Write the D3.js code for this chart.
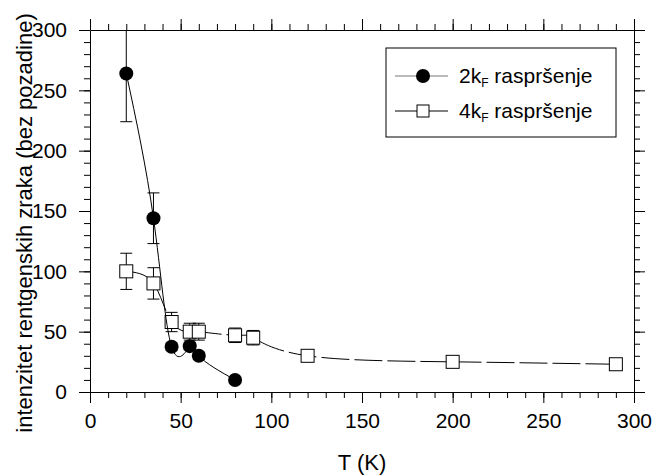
<!DOCTYPE html>
<html>
<head>
<meta charset="utf-8">
<script src="https://cdn.jsdelivr.net/npm/d3@7"></script>
<style>
  body { margin: 0; background: #fff; }
  svg { display: block; font-family: "Liberation Sans", Arial, sans-serif; }
  .axis path, .axis line { stroke: #000; stroke-width: 1; }
</style>
</head>
<body>
<div id="chart"></div>
<script>
// chart size
const width = 653,
  height = 475,
  margin = { top: 30, bottom: 83, left: 90, right: 19 };

// 2kF scattering (filled circles)
const t2k = [20, 35, 45, 55, 60, 80];
const i2k = [264, 144, 37.5, 38, 30, 10];
const e2k = [40, 21, 3, 3, 3, 2];

// 4kF scattering (open squares)
const t4k = [20, 35, 45, 55, 60, 80, 90, 120, 200, 290];
const i4k = [100, 90, 58, 50, 50, 47, 45, 30, 25, 23];
const e4k = [15, 13, 8, 7, 7, 6, 6, 2, 2, 2];

const xTicks = [0, 50, 100, 150, 200, 250, 300];
const yTicks = [0, 50, 100, 150, 200, 250, 300];
const legendNames = ["2k", "4k"];

const data2k = t2k.map((t, i) => ({ t: t, v: i2k[i], e: e2k[i] }));
const data4k = t4k.map((t, i) => ({ t: t, v: i4k[i], e: e4k[i] }));

const xScale = d3.scaleLinear()
  .domain([0, 300])
  .range([margin.left, width - margin.right]);

const yScale = d3.scaleLinear()
  .domain([0, 300])
  .range([height - margin.bottom, margin.top]);

const minor = d3.range(0, 301, 10);

const svg = d3.select("#chart")
  .append("svg")
  .attr("width", width)
  .attr("height", height);

// clip for marks
svg.append("clipPath")
  .attr("id", "plot-clip")
  .append("rect")
  .attr("x", margin.left)
  .attr("y", margin.top)
  .attr("width", width - margin.left - margin.right)
  .attr("height", height - margin.top - margin.bottom);

// axes: minor ticks first, then majors with labels
function addAxis(axisFn, scale, ticks, transform, labels) {
  svg.append("g")
    .attr("class", "axis")
    .attr("transform", transform)
    .call(axisFn(scale).tickValues(minor).tickSize(6).tickFormat(""))
    .call(g => g.select(".domain").remove());
  const g = svg.append("g")
    .attr("class", "axis")
    .attr("transform", transform)
    .call(axisFn(scale).tickValues(ticks).tickSizeInner(11).tickSizeOuter(0)
      .tickPadding(axisFn === d3.axisLeft ? 12 : 10)
      .tickFormat(labels ? d3.format("d") : ""));
  g.selectAll("text")
    .attr("font-size", 21)
    .attr("fill", "#000");
  return g;
}

addAxis(d3.axisBottom, xScale, xTicks, `translate(0,${yScale(0)})`, true);
addAxis(d3.axisTop, xScale, xTicks, `translate(0,${yScale(300)})`, false);
addAxis(d3.axisLeft, yScale, yTicks, `translate(${xScale(0)},0)`, true);
addAxis(d3.axisRight, yScale, yTicks, `translate(${xScale(300)},0)`, false);

// axis titles
svg.append("text")
  .attr("x", (xScale(0) + xScale(300)) / 2)
  .attr("y", 470)
  .attr("text-anchor", "middle")
  .attr("font-size", 22)
  .text("T (K)");

svg.append("text")
  .attr("transform", `translate(32, ${223})rotate(-90)`)
  .attr("text-anchor", "middle")
  .attr("font-size", 22)
  .text("intenzitet rentgenskih zraka (bez pozadine)");

const plot = svg.append("g").attr("clip-path", "url(#plot-clip)");

const line = d3.line()
  .x(d => xScale(d.t))
  .y(d => yScale(d.v))
  .curve(d3.curveNatural);

// 4kF line + error bars + squares
plot.append("path")
  .datum(data4k)
  .attr("d", line)
  .attr("fill", "none")
  .attr("stroke", "#000")
  .attr("stroke-width", 1)
  .attr("stroke-dasharray", "28,5");

function errorBars(data) {
  const g = plot.append("g");
  data.forEach(d => {
    const x = xScale(d.t);
    g.append("line").attr("x1", x).attr("x2", x)
      .attr("y1", yScale(d.v - d.e)).attr("y2", yScale(d.v + d.e))
      .attr("stroke", "#000");
    [d.v - d.e, d.v + d.e].forEach(v => {
      g.append("line").attr("x1", x - 6).attr("x2", x + 6)
        .attr("y1", yScale(v)).attr("y2", yScale(v))
        .attr("stroke", "#000");
    });
  });
}

errorBars(data4k);

plot.selectAll(".sq")
  .data(data4k)
  .join("rect")
  .attr("class", "sq")
  .attr("x", d => xScale(d.t) - 6.5)
  .attr("y", d => yScale(d.v) - 6.5)
  .attr("width", 13)
  .attr("height", 13)
  .attr("fill", "#fff")
  .attr("stroke", "#000")
  .attr("stroke-width", 1);

// 2kF line + error bars + circles
plot.append("path")
  .datum(data2k)
  .attr("d", line)
  .attr("fill", "none")
  .attr("stroke", "#000")
  .attr("stroke-width", 1);

errorBars(data2k);

plot.selectAll(".dot")
  .data(data2k)
  .join("circle")
  .attr("class", "dot")
  .attr("cx", d => xScale(d.t))
  .attr("cy", d => yScale(d.v))
  .attr("r", 7)
  .attr("fill", "#000");

// legend
const legend = svg.append("g");
legend.append("rect")
  .attr("x", 386).attr("y", 48)
  .attr("width", 230).attr("height", 89)
  .attr("fill", "#fff")
  .attr("stroke", "#000");

legendNames.forEach((name, i) => {
  const y = 76 + i * 35;
  legend.append("line")
    .attr("x1", 395).attr("x2", 448)
    .attr("y1", y).attr("y2", y)
    .attr("stroke", i === 0 ? "#777" : "#000");
  if (i === 0) {
    legend.append("circle").attr("cx", 423).attr("cy", y).attr("r", 7).attr("fill", "#000");
  } else {
    legend.append("rect").attr("x", 417).attr("y", y - 6).attr("width", 12).attr("height", 12)
      .attr("fill", "#fff").attr("stroke", "#000");
  }
  const txt = legend.append("text")
    .attr("x", 459).attr("y", y + 7)
    .attr("font-size", 21);
  txt.append("tspan").text(name);
  txt.append("tspan").attr("font-size", 12).attr("dy", 4).text("F");
  txt.append("tspan").attr("dy", -4).text(" raspršenje");
});
</script>
</body>
</html>
